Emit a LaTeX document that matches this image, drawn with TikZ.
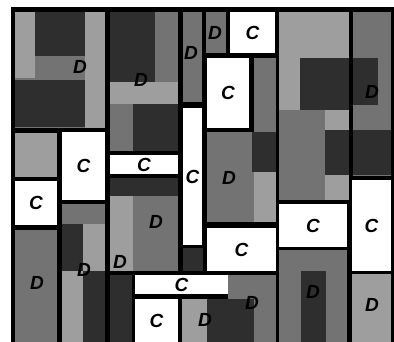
\documentclass[tikz,border=0pt]{standalone}
\usepackage{fontspec}
\setmainfont{Liberation Sans}
\usetikzlibrary{positioning}

\begin{document}
\begin{tikzpicture}[x=1pt, y=-1pt,
  lbl/.style={font=\fontsize{19}{19}\selectfont\bfseries\itshape, inner sep=0pt},
  cbox/.style={lbl, fill=white, draw=none},
  lt/.style={fill=black!38},
  md/.style={fill=black!55},
  dk/.style={fill=black!82}]
\useasboundingbox (0,0) rectangle (394,342);

% black frame and dividing lines
\fill[black] (11,7) rectangle (394,342);

% top left block
\fill[md] (15,12) rectangle (105,128);
\fill[lt] (15,12) rectangle (35,78);
\fill[dk] (35,12) rectangle (85,56);
\fill[dk] (15,80) rectangle (85,127);
\fill[lt] (85,12) rectangle (105,128);
\fill[lt] (15,133) rectangle (57,177);

% second column
\fill[md] (110,12) rectangle (178,151);
\fill[dk] (110,12) rectangle (155,82);
\fill[lt] (110,82) rectangle (178,104);
\fill[dk] (133,104) rectangle (178,151);
\fill[md] (183,12) rectangle (202,102);
\fill[md] (206,12) rectangle (226,53);

% right top
\fill[lt] (279,12) rectangle (349,200);
\fill[dk] (300,58) rectangle (349,110);
\fill[md] (279,110) rectangle (325,200);
\fill[dk] (325,130) rectangle (349,175);
\fill[md] (353,12) rectangle (391,176);
\fill[dk] (353,58) rectangle (378,105);
\fill[dk] (353,130) rectangle (391,175);

% middle
\fill[md] (254,58) rectangle (276,132);
\fill[md] (207,132) rectangle (276,222);
\fill[dk] (252,132) rectangle (276,172);
\fill[lt] (254,172) rectangle (276,222);

% lower left
\fill[md] (15,230) rectangle (57,342);
\fill[md] (62,204) rectangle (105,342);
\fill[dk] (62,224) rectangle (83,271);
\fill[lt] (83,224) rectangle (105,271);
\fill[lt] (62,271) rectangle (83,342);
\fill[dk] (83,271) rectangle (105,342);
\fill[lt] (110,178) rectangle (178,271);
\fill[dk] (110,178) rectangle (178,196);
\fill[md] (133,196) rectangle (178,271);
\fill[dk] (110,275) rectangle (132,342);
\fill[dk] (183,248) rectangle (203,271);

% lower right
\fill[lt] (182,299) rectangle (207,342);
\fill[dk] (207,299) rectangle (254,342);
\fill[md] (228,275) rectangle (276,299);
\fill[md] (254,299) rectangle (276,342);
\fill[md] (279,250) rectangle (347,342);
\fill[dk] (301,271) rectangle (326,342);
\fill[lt] (352,274) rectangle (391,342);

% C boxes
\node[cbox, minimum width=43, minimum height=68] (c1) at (83.5,166) {C};
\node[cbox, minimum width=42, minimum height=44] (c2) at (36,203) {C};
\node[cbox, minimum width=68, minimum height=19] (c3) at (144,164.5) {C};
\node[cbox, minimum width=19, minimum height=137] (c4) at (192.5,176.5) {C};
\node[cbox, minimum width=45, minimum height=41] (c5) at (252.5,32.5) {C};
\node[cbox, minimum width=42, minimum height=70] (c6) at (228,93) {C};
\node[cbox, minimum width=68, minimum height=43] (c7) at (313,225.5) {C};
\node[cbox, minimum width=39, minimum height=91] (c8) at (371.5,225.5) {C};
\node[cbox, minimum width=69, minimum height=43] (c9) at (241.5,249.5) {C};
\node[cbox, minimum width=93, minimum height=19] (c10) at (181.5,284.5) {C};
\node[cbox, minimum width=43, minimum height=43] (c11) at (156.5,320.5) {C};

% D labels
\node[lbl] (d1) at (80,67) {D};
\node[lbl] (d2) at (141,80) {D};
\node[lbl] (d3) at (191,53) {D};
\node[lbl] (d4) at (215,33) {D};
\node[lbl] (d5) at (372,92) {D};
\node[lbl] (d6) at (229,178) {D};
\node[lbl] (d7) at (156,222) {D};
\node[lbl] (d8) at (120,262) {D};
\node[lbl] (d9) at (84,270) {D};
\node[lbl] (d10) at (37,283) {D};
\node[lbl] (d11) at (205,320) {D};
\node[lbl] (d12) at (252,303) {D};
\node[lbl] (d13) at (313,292) {D};
\node[lbl] (d14) at (372,305) {D};
\end{tikzpicture}
\end{document}
